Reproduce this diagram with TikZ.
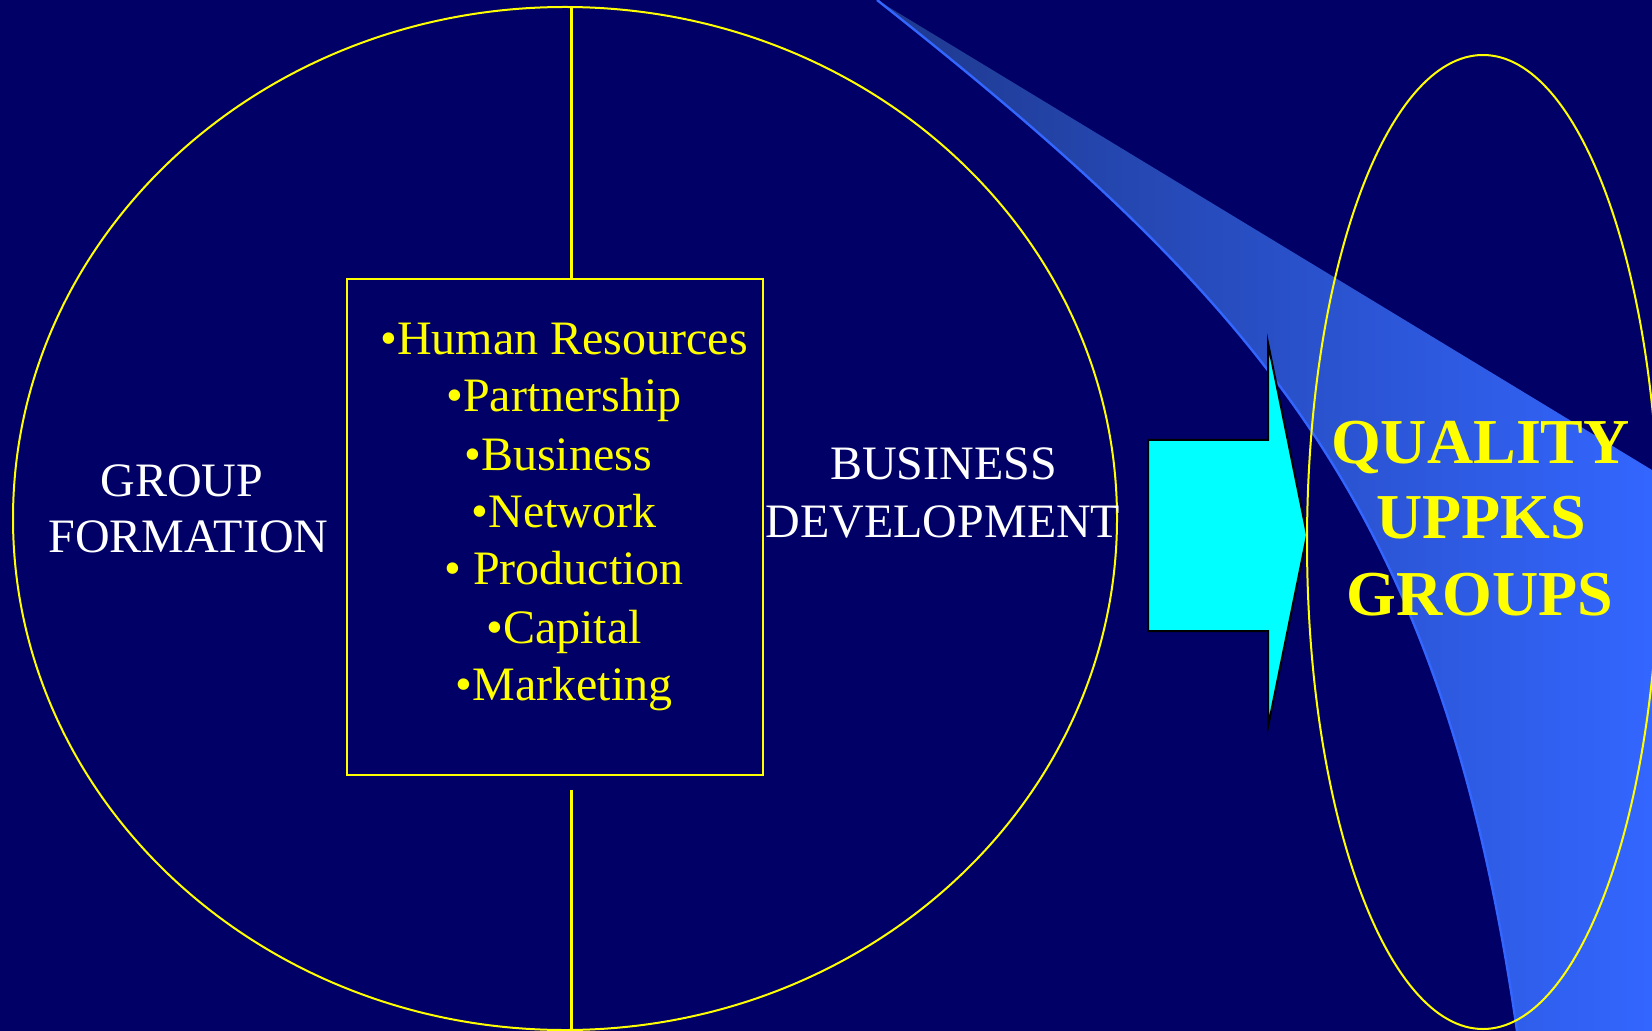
\documentclass[tikz,border=0pt]{standalone}
\usepackage{fontspec}
\setmainfont{Liberation Serif}
\usetikzlibrary{shapes.geometric}
\definecolor{bg}{RGB}{0,0,102}
\definecolor{yel}{RGB}{255,255,0}
\definecolor{swL}{RGB}{30,56,140}
\definecolor{swR}{RGB}{51,102,255}
\definecolor{arrcyan}{RGB}{0,255,255}
\begin{document}
\begin{tikzpicture}[x=0.5pt,y=-0.5pt,
  yline/.style={draw=yel, line width=1pt},
  vline/.style={draw=yel, line width=1.5pt},
  wtext/.style={text=white, inner sep=0pt, anchor=base, font=\fontsize{24pt}{28pt}\selectfont},
  ytext/.style={text=yel, inner sep=0pt, anchor=base, font=\fontsize{24pt}{28pt}\selectfont},
  qtext/.style={text=yel, inner sep=0pt, anchor=base, font=\bfseries\fontsize{32pt}{38pt}\selectfont},
  bigarrow/.style={fill=arrcyan, draw=black, line width=1pt, line join=miter},
]
\fill[bg] (0,0) rectangle (1652,1031);
\useasboundingbox (0,0) rectangle (1652,1031);
\begin{scope}
\clip (0,0) rectangle (1652,1031);
% swoosh
\coordinate (sw0) at (877,0);
\coordinate (sw1) at (1652,470);
\coordinate (sw2) at (1652,1031);
\coordinate (sw3) at (1517,1031);
\shade[left color=swL, right color=swR]
  (sw0) -- (sw1) -- (sw2) -- (sw3) .. controls (1442,508.5) and (1262,304.5) .. (sw0) -- cycle;
\draw[swR, line width=1.2pt]
  (sw3) .. controls (1442,508.5) and (1262,304.5) .. (sw0);
% big ellipse
\node[ellipse, yline, minimum width=552pt, minimum height=511.5pt, inner sep=0pt] (big) at (565,518.5) {};
% box
\node[yline, rectangle, minimum width=208pt, minimum height=248pt, inner sep=0pt] (box) at (555,527) {};
\coordinate (etop) at (571,7);
\coordinate (lbot) at (571,790);
\coordinate (ebot) at (571,1031);
\draw[vline] (etop) -- (etop |- box.north);
\draw[vline] (lbot) -- (ebot);
% list
\node[ytext] (hr) at (564,355) {•Human Resources};
\node[ytext] (pa) at (564,412) {•Partnership};
\node[ytext] (bu) at (558,470) {•Business};
\node[ytext] (ne) at (564,527) {•Network};
\node[ytext] (pr) at (564,584) {• Production};
\node[ytext] (ca) at (564,643) {•Capital};
\node[ytext] (ma) at (564,700) {•Marketing};
% side texts
\node[wtext] (g1) at (182,496) {GROUP};
\node[wtext] (g2) at (188.5,552) {FORMATION};
\node[wtext] (b1) at (943.5,480) {BUSINESS};
\node[wtext] (b2) at (943,537) {DEVELOPMENT};
% arrow
\draw[bigarrow] (1148,440) -- (1268,440) -- (1268,343) -- (1307,535) -- (1268,727) -- (1268,631) -- (1148,631) -- cycle;
% right ellipse
\node[ellipse, yline, minimum width=176pt, minimum height=487pt, inner sep=0pt] (res) at (1483,542) {};
\node[qtext] (q1) at (1480.5,463) {QUALITY};
\node[qtext] (q2) at (1481,538) {UPPKS};
\node[qtext] (q3) at (1480,615) {GROUPS};
\end{scope}
\end{tikzpicture}
\end{document}
